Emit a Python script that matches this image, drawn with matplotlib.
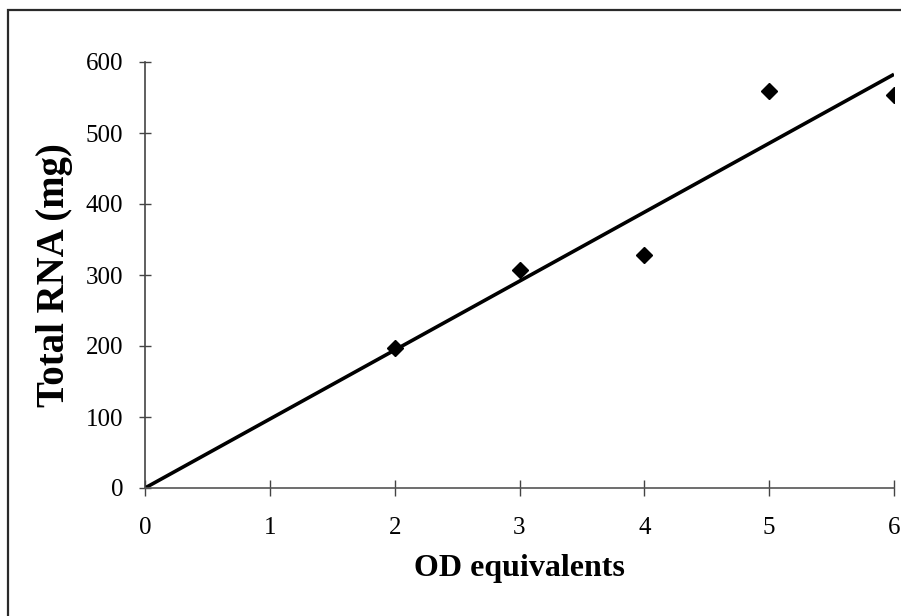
import numpy as np
import matplotlib.pyplot as plt
from matplotlib.patches import Rectangle

plt.rcParams['font.family'] = ['Liberation Serif', 'DejaVu Serif']

# OD equivalents vs total RNA yield
od_equiv = np.array([2, 3, 4, 5, 6])
total_rna = np.array([197, 307, 328, 559, 553])

# linear trend forced through the origin
slope = np.sum(od_equiv * total_rna) / np.sum(od_equiv ** 2)
trend_x = np.array([0, 6])
trend_y = slope * trend_x

fig = plt.figure(figsize=(9.01, 6.16), dpi=100)
ax = fig.add_axes([145 / 901, 1 - 488 / 616, (894 - 145) / 901, (488 - 62) / 616])

# frame round the chart area
fig.patches.append(Rectangle((8 / 901, -0.1), 1.2, 1 - 10 / 616 + 0.1,
                             transform=fig.transFigure, fill=False,
                             edgecolor='#2a2a2a', linewidth=1.6))

ax.plot(trend_x, trend_y, color='black', linewidth=2.6, solid_capstyle='butt', zorder=2)
ax.plot(od_equiv, total_rna, linestyle='none', marker='D', markersize=8.5,
        color='black', zorder=3)

ax.set_xlim(0, 6)
ax.set_ylim(0, 600)
ax.set_xticks([0, 1, 2, 3, 4, 5, 6])
ax.set_yticks([0, 100, 200, 300, 400, 500, 600])

for side in ['top', 'right']:
    ax.spines[side].set_visible(False)
ax.spines['left'].set_color('#444444')
ax.spines['bottom'].set_color('#555555')
ax.spines['left'].set_linewidth(1.2)
ax.spines['bottom'].set_linewidth(1.2)

ax.tick_params(axis='x', direction='inout', length=12, width=1.0, color='#444444',
               labelsize=18, pad=15)
ax.tick_params(axis='y', direction='inout', length=9, width=1.0, color='#444444',
               labelsize=18, pad=11)

ax.set_xlabel('OD equivalents', fontsize=23, fontweight='bold', labelpad=11)
ax.set_ylabel('Total RNA (mg)', fontsize=28, fontweight='bold', labelpad=9)

fig.savefig('out.png', dpi=100)
